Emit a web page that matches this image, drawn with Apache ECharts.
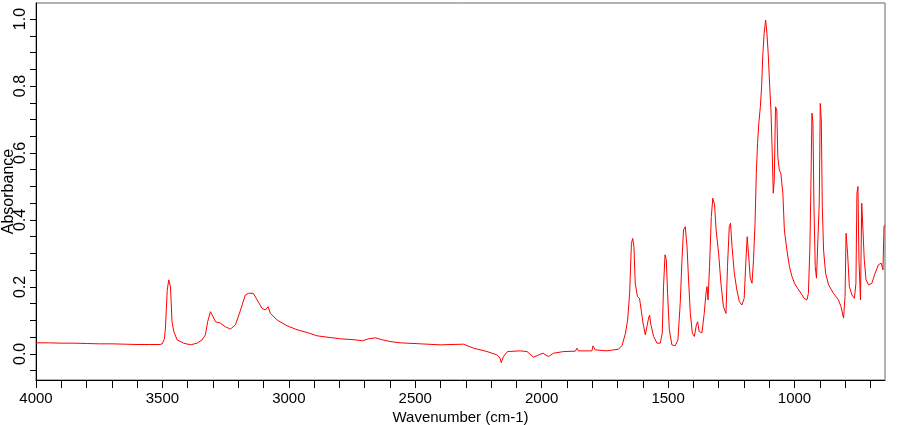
<!DOCTYPE html>
<html>
<head>
<meta charset="utf-8">
<script src="https://cdn.jsdelivr.net/npm/echarts@6/dist/echarts.min.js"></script>
<style>html,body{margin:0;padding:0;background:#fff}#chart{width:900px;height:425px}</style>
</head>
<body>
<div id="chart"></div>
<script>
// Wavenumbers (cm-1)
var wavenumbers = [4000,3950,3900,3850,3800,3750,3700,3650,3600,3550,3510,3501,3492,3488,3481,3475,3468,3462,3455,3442,3416,3389,3363,3343,3330,3321,3310,3303,3290,3271,3251,3231,3211,3191,3172,3159,3141,3125,3106,3093,3082,3073,3046,3007,2967,2928,2888,2849,2796,2737,2709,2685,2658,2630,2600,2559,2479,2401,2309,2269,2216,2177,2165,2160,2151,2135,2085,2058,2032,2012,1995,1973,1953,1913,1867,1860,1854,1801,1797,1788,1742,1696,1682,1669,1660,1652,1645,1640,1635,1630,1621,1613,1607,1599,1590,1584,1577,1573,1568,1557,1544,1531,1523,1518,1512,1507,1502,1495,1485,1472,1461,1452,1445,1439,1432,1425,1419,1412,1404,1396,1388,1383,1377,1366,1357,1350,1346,1342,1336,1329,1323,1316,1310,1300,1291,1281,1271,1265,1258,1253,1247,1238,1228,1218,1208,1199,1192,1187,1182,1175,1168,1162,1156,1151,1146,1141,1135,1130,1125,1120,1114,1109,1104,1098,1093,1088,1084,1080,1075,1070,1066,1060,1054,1046,1040,1030,1020,1010,1000,988,974,962,951,945,939,935,931,927,923,918,913,907,902,898,894,890,885,877,865,846,826,816,806,800,796,790,783,773,763,757,753,749,745,739,734,729,724,717,707,694,681,668,657,650,646,642];
// Absorbance values at those wavenumbers
var absorbance = [0.033,0.033,0.032,0.032,0.031,0.030,0.030,0.029,0.028,0.028,0.028,0.030,0.045,0.077,0.190,0.221,0.200,0.096,0.067,0.042,0.032,0.027,0.032,0.042,0.057,0.096,0.126,0.116,0.096,0.092,0.081,0.074,0.087,0.131,0.176,0.181,0.181,0.161,0.136,0.131,0.141,0.121,0.101,0.084,0.072,0.064,0.054,0.050,0.045,0.042,0.039,0.045,0.048,0.042,0.037,0.033,0.030,0.027,0.029,0.017,0.007,-0.003,-0.012,-0.026,-0.008,0.007,0.009,0.007,-0.010,-0.003,0.002,-0.008,0.002,0.007,0.008,0.017,0.009,0.009,0.024,0.012,0.009,0.014,0.025,0.060,0.101,0.181,0.330,0.345,0.320,0.211,0.171,0.166,0.161,0.092,0.057,0.060,0.107,0.116,0.087,0.052,0.032,0.032,0.062,0.201,0.296,0.281,0.181,0.072,0.027,0.024,0.042,0.151,0.281,0.370,0.380,0.320,0.221,0.121,0.062,0.052,0.087,0.096,0.067,0.063,0.121,0.181,0.201,0.161,0.261,0.410,0.465,0.445,0.370,0.300,0.211,0.141,0.121,0.261,0.380,0.390,0.320,0.241,0.191,0.156,0.146,0.166,0.281,0.350,0.300,0.226,0.211,0.281,0.390,0.539,0.629,0.689,0.738,0.798,0.898,0.957,0.997,0.957,0.898,0.798,0.728,0.599,0.480,0.519,0.738,0.728,0.589,0.549,0.539,0.480,0.370,0.310,0.261,0.231,0.211,0.196,0.181,0.166,0.161,0.181,0.320,0.500,0.719,0.689,0.440,0.261,0.226,0.226,0.450,0.748,0.699,0.440,0.310,0.241,0.206,0.181,0.161,0.141,0.107,0.171,0.360,0.300,0.201,0.176,0.166,0.211,0.480,0.500,0.281,0.161,0.450,0.445,0.281,0.221,0.206,0.211,0.241,0.266,0.271,0.251,0.380,0.385];
// Tick marks and tick labels
var xTickValues = [700,800,900,1000,1100,1200,1300,1400,1500,1600,1700,1800,1900,2000,2100,2200,2300,2400,2500,2600,2700,2800,2900,3000,3100,3200,3300,3400,3500,3600,3700,3800,3900,4000];
var xLabelValues = [1000,1500,2000,2500,3000,3500,4000];
var yTickValues = [-0.05,0,0.05,0.1,0.15,0.2,0.25,0.3,0.35,0.4,0.45,0.5,0.55,0.6,0.65,0.7,0.75,0.8,0.85,0.9,0.95,1.0];
var yLabelValues = [0,0.2,0.4,0.6,0.8,1.0];
var xAxisTitle = 'Wavenumber (cm-1)';
var yAxisTitle = 'Absorbance';

var points = wavenumbers.map(function(w, i){ return [w, absorbance[i]]; });
var font = 'Liberation Sans, Arial, sans-serif';
var chart = echarts.init(document.getElementById('chart'), null, {renderer:'canvas'});
chart.setOption({
  animation: false,
  backgroundColor: '#fff',
  grid: {left: 36, right: 15, top: 3, bottom: 45, show: true, borderColor: '#666', borderWidth: 1, containLabel: false, outerBoundsMode: 'none'},
  xAxis: {
    type: 'value', inverse: true, min: 642, max: 4000,
    name: xAxisTitle, nameLocation: 'middle', nameGap: 30, nameMoveOverlap: false,
    nameTextStyle: {fontFamily: font, fontSize: 15, color: '#000'},
    axisLine: {show: true, onZero: false, lineStyle: {color: '#000', width: 1}},
    axisTick: {show: true, inside: false, length: 8, customValues: xTickValues, lineStyle: {color: '#000'}},
    axisLabel: {show: true, margin: 11, customValues: xLabelValues, fontFamily: font, fontSize: 15, color: '#000',
      formatter: function(v){ return String(Math.round(v)); }},
    splitLine: {show: false}
  },
  yAxis: {
    type: 'value', min: -0.078, max: 1.048,
    name: yAxisTitle, nameLocation: 'middle', nameGap: 19, nameRotate: 90, nameMoveOverlap: false,
    nameTextStyle: {fontFamily: font, fontSize: 16, color: '#000'},
    axisLine: {show: true, onZero: false, lineStyle: {color: '#000', width: 1}},
    axisTick: {show: true, inside: false, length: 6, customValues: yTickValues, lineStyle: {color: '#000'}},
    axisLabel: {show: true, rotate: 90, margin: 7, customValues: yLabelValues, fontFamily: font, fontSize: 16, color: '#000',
      formatter: function(v){ return v.toFixed(1); }},
    splitLine: {show: false}
  },
  series: [{
    type: 'line', data: points, showSymbol: false, symbol: 'none',
    lineStyle: {color: '#ff0000', width: 1}, clip: true
  }]
});
</script>
</body>
</html>
